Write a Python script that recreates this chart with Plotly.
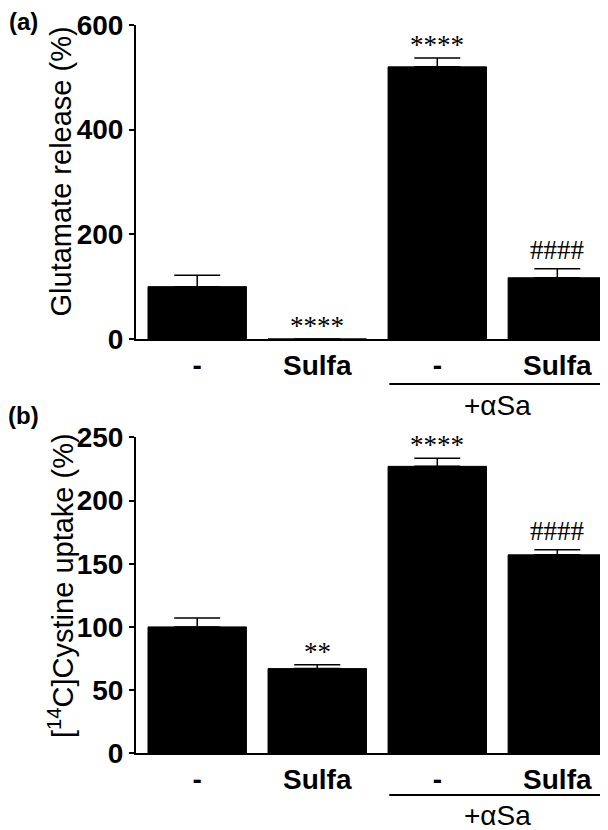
import plotly.graph_objects as go

categories = ["-", "Sulfa", "-", "Sulfa"]
glut_values = [100, 0, 520, 117]
glut_errors = [22, 0, 17, 17]
glut_marks = ["", "****", "****", "####"]
cyst_values = [100, 67, 227, 157]
cyst_errors = [7, 3, 6.5, 4]
cyst_marks = ["", "**", "****", "####"]
glut_ticks = [0, 200, 400, 600]
cyst_ticks = [0, 50, 100, 150, 200, 250]

SANS = "Liberation Sans"
SERIF = "Liberation Serif"

# page body has an 8px margin; work in window pixels
OFF = 8
W, H = 608 - OFF, 830 - OFF
def px(X):
    return (X - OFF) / W
def py(Y):
    return 1 - (Y - OFF) / H

x = list(range(len(categories)))

fig = go.Figure()

def add_bars(vals, errs, xa, ya):
    fig.add_trace(go.Bar(
        x=x, y=vals, xaxis=xa, yaxis=ya,
        marker=dict(color="black", line=dict(color="black", width=1)),
        error_y=dict(type="data", array=errs, arrayminus=[0]*len(errs),
                     symmetric=False, color="black", thickness=1.5, width=23),
        showlegend=False,
    ))

add_bars(glut_values, glut_errors, "x", "y")
add_bars(cyst_values, cyst_errors, "x2", "y2")

xdom = [px(136), 1.0]
xrange_ = [-0.51, 3.49 - OFF / 118]
ax_common = dict(showline=True, linecolor="black", linewidth=2,
                 showgrid=False, zeroline=False, automargin=False)
tickf = dict(family=SANS, size=28, color="black", weight="bold")
fig.update_layout(
    width=W, height=H,
    margin=dict(l=0, r=0, t=0, b=0, autoexpand=False),
    paper_bgcolor="white", plot_bgcolor="white",
    bargap=0.18,
    xaxis=dict(domain=xdom, anchor="y", range=xrange_,
               tickvals=x, ticktext=categories, ticks="",
               tickfont=tickf, **ax_common),
    yaxis=dict(domain=[py(339), py(25)], anchor="x", range=[0, 600],
               tickvals=glut_ticks, ticks="outside", ticklen=5, tickwidth=2,
               tickcolor="black", tickfont=tickf, **ax_common),
    xaxis2=dict(domain=xdom, anchor="y2", range=xrange_,
                tickvals=x, ticktext=categories, ticks="",
                tickfont=tickf, **ax_common),
    yaxis2=dict(domain=[py(753.3), py(437.3)], anchor="x2", range=[0, 250],
                tickvals=cyst_ticks, ticks="outside", ticklen=5, tickwidth=2,
                tickcolor="black", tickfont=tickf, **ax_common),
)

ann = []
def marks(vals, errs, labels, xr, yr):
    for i, (v, e, t) in enumerate(zip(vals, errs, labels)):
        if not t:
            continue
        shift = 2 if t.startswith("#") else -4
        ann.append(dict(x=i, y=v + e, xref=xr, yref=yr, text=t, showarrow=False,
                        yanchor="bottom", yshift=shift,
                        font=dict(family=SERIF, size=27, color="black")))

marks(glut_values, glut_errors, glut_marks, "x", "y")
marks(cyst_values, cyst_errors, cyst_marks, "x2", "y2")

# y titles
ann.append(dict(x=px(61), y=py(171.5), xref="paper", yref="paper",
                text="Glutamate release (%)", textangle=-90, showarrow=False,
                xanchor="center", yanchor="middle",
                font=dict(family=SANS, size=29, color="black")))
ann.append(dict(x=px(61), y=py(586), xref="paper", yref="paper",
                text="[<sup>14</sup>C]Cystine uptake (%)", textangle=-90, showarrow=False,
                xanchor="center", yanchor="middle",
                font=dict(family=SANS, size=29, color="black")))
# panel labels
ann.append(dict(x=px(23), y=py(22), xref="paper", yref="paper", text="(a)",
                showarrow=False, xanchor="center", yanchor="middle",
                font=dict(family=SANS, size=24, color="black", weight="bold")))
ann.append(dict(x=px(23), y=py(415), xref="paper", yref="paper", text="(b)",
                showarrow=False, xanchor="center", yanchor="middle",
                font=dict(family=SANS, size=24, color="black", weight="bold")))
# group labels
for xr, ly, ty in [("x", 384, 405), ("x2", 795, 815)]:
    fig.add_shape(type="line", xref=xr, yref="paper", x0=1.60, x1=3.42,
                  y0=py(ly), y1=py(ly), line=dict(color="black", width=2))
    ann.append(dict(x=2.5, y=py(ty), xref=xr, yref="paper", text="+αSa",
                    showarrow=False, xanchor="center", yanchor="middle",
                    font=dict(family=SANS, size=28, color="black")))

fig.update_layout(annotations=ann)
fig.write_html("out.html")
